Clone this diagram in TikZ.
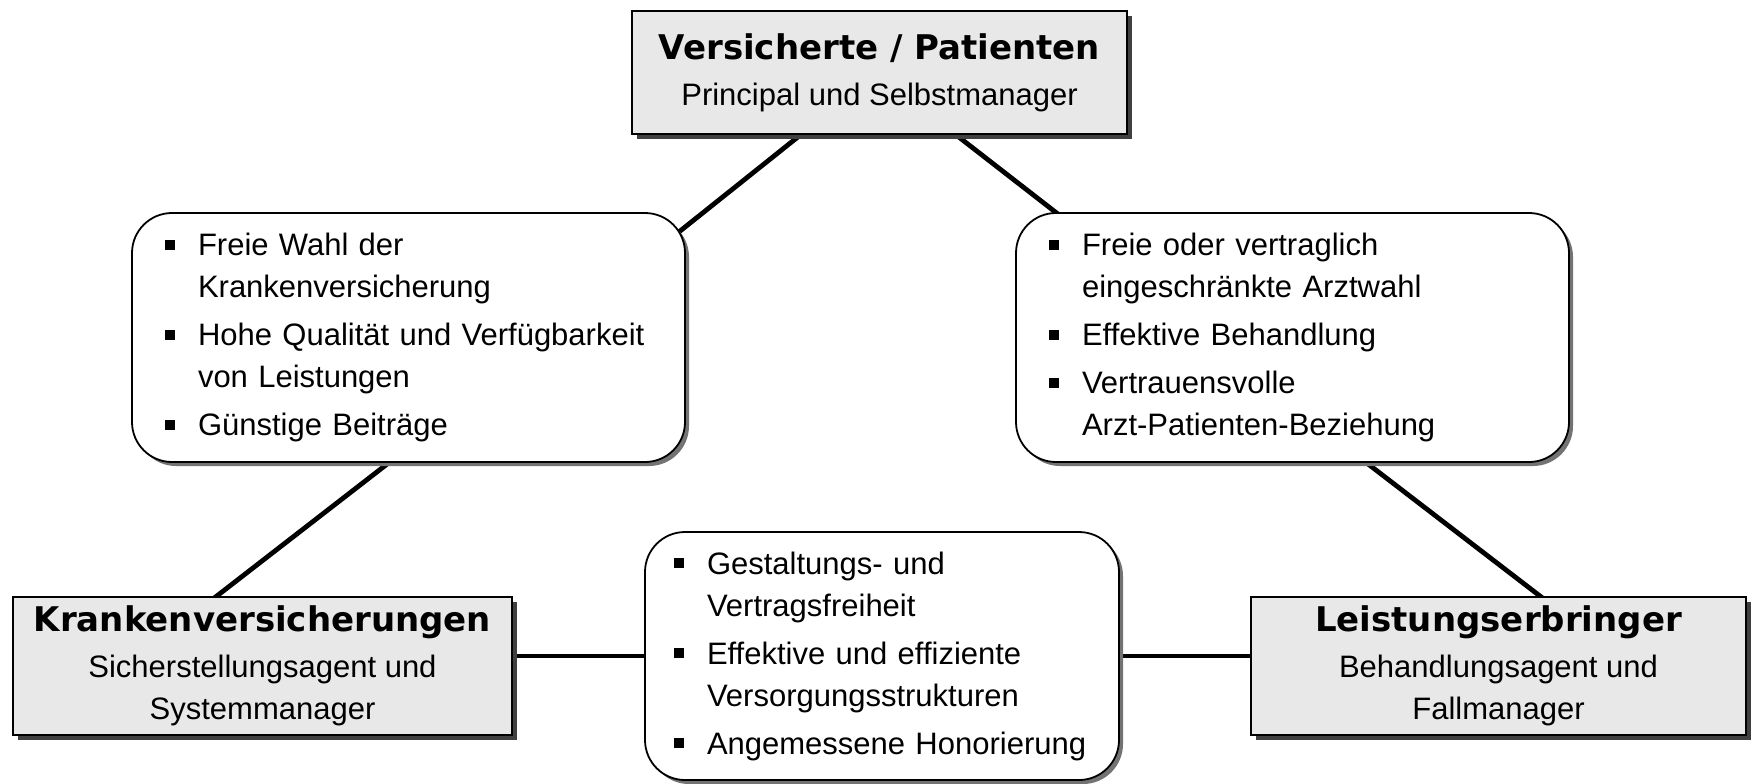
\documentclass[tikz,border=0pt]{standalone}
\usepackage{fontspec}
\setmainfont{Liberation Sans}
\newfontfamily\headfont{DejaVu Sans}
\usetikzlibrary{positioning,shadows,backgrounds}
\definecolor{boxgray}{HTML}{E8E8E8}
\newcommand{\itm}[1]{\noindent\hangindent=16.5pt\hangafter=1\makebox[16.5pt][l]{\rule[0.18em]{5pt}{5pt}}#1\par}
\newcommand{\gap}{\vskip3pt}
\newcommand{\rolename}[1]{{\headfont\bfseries\fontsize{17}{23}\selectfont #1}}
\begin{document}
\begin{tikzpicture}
[x=0.5pt,y=-0.5pt,
role/.style={draw,line width=0.9pt,fill=boxgray,align=center,inner sep=0pt,
  font=\fontsize{15.5}{21}\selectfont,
  drop shadow={shadow xshift=2.5pt,shadow yshift=-2.5pt,fill=black!75,opacity=1}},
goals/.style={draw,line width=0.9pt,fill=white,rounded corners=20pt,align=left,
  inner ysep=0pt,font=\fontsize{15.5}{21}\selectfont,
  drop shadow={shadow xshift=2pt,shadow yshift=-2pt,fill=black!55,opacity=1}},
link/.style={line width=2.4pt}]
\useasboundingbox (0,0) rectangle (1755,783);
\node[role,minimum width=247.5pt,minimum height=61.5pt](vp) at (879.5,72.5)
  {\rolename{Versicherte / Patienten}\\[2pt]Principal und Selbstmanager};
\node[role,minimum width=249.5pt,minimum height=69pt](kv) at (262.5,666)
  {\rolename{Krankenversicherungen}\\[2pt]Sicherstellungsagent und\\Systemmanager};
\node[role,minimum width=247.5pt,minimum height=69pt](le) at (1498.5,666)
  {\rolename{Leistungserbringer}\\[2pt]Behandlungsagent und\\Fallmanager};
\node[goals,inner xsep=16.5pt,text width=243.5pt,minimum height=124.5pt](lv) at (408.5,337.5)
  {\itm{Freie Wahl der\newline Krankenversicherung}\gap
   \itm{Hohe Qualität und Verfügbarkeit\newline von Leistungen}\gap
   \itm{Günstige Beiträge}};
\node[goals,inner xsep=16.5pt,text width=243.5pt,minimum height=124.5pt](rv) at (1292.5,337.5)
  {\itm{Freie oder vertraglich\newline eingeschränkte Arztwahl}\gap
   \itm{Effektive Behandlung}\gap
   \itm{Vertrauensvolle\newline Arzt-Patienten-Beziehung}};
\node[goals,inner xsep=14.5pt,text width=208pt,minimum height=124pt](mid) at (882,656)
  {\itm{Gestaltungs- und\newline Vertragsfreiheit}\gap
   \itm{Effektive und effiziente\newline Versorgungsstrukturen}\gap
   \itm{Angemessene Honorierung}};
\begin{pgfonlayer}{background}
\draw[link] ([xshift=-30.75pt,yshift=7pt]vp.south) -- ([xshift=-20.5pt,yshift=-23.5pt]lv.north east);
\draw[link] ([xshift=29.25pt,yshift=7pt]vp.south) -- ([xshift=44pt,yshift=-18.5pt]rv.north west);
\draw[link] ([xshift=4.25pt,yshift=11pt]lv.south) -- ([xshift=-37.75pt,yshift=-11.5pt]kv.north);
\draw[link] ([xshift=22.75pt,yshift=11pt]rv.south) -- ([xshift=35.75pt,yshift=-11.5pt]le.north);
\draw[link] (mid.west) -- (mid.west -| kv.east);
\draw[link] (mid.east) -- (mid.east -| le.west);
\end{pgfonlayer}
\end{tikzpicture}
\end{document}
